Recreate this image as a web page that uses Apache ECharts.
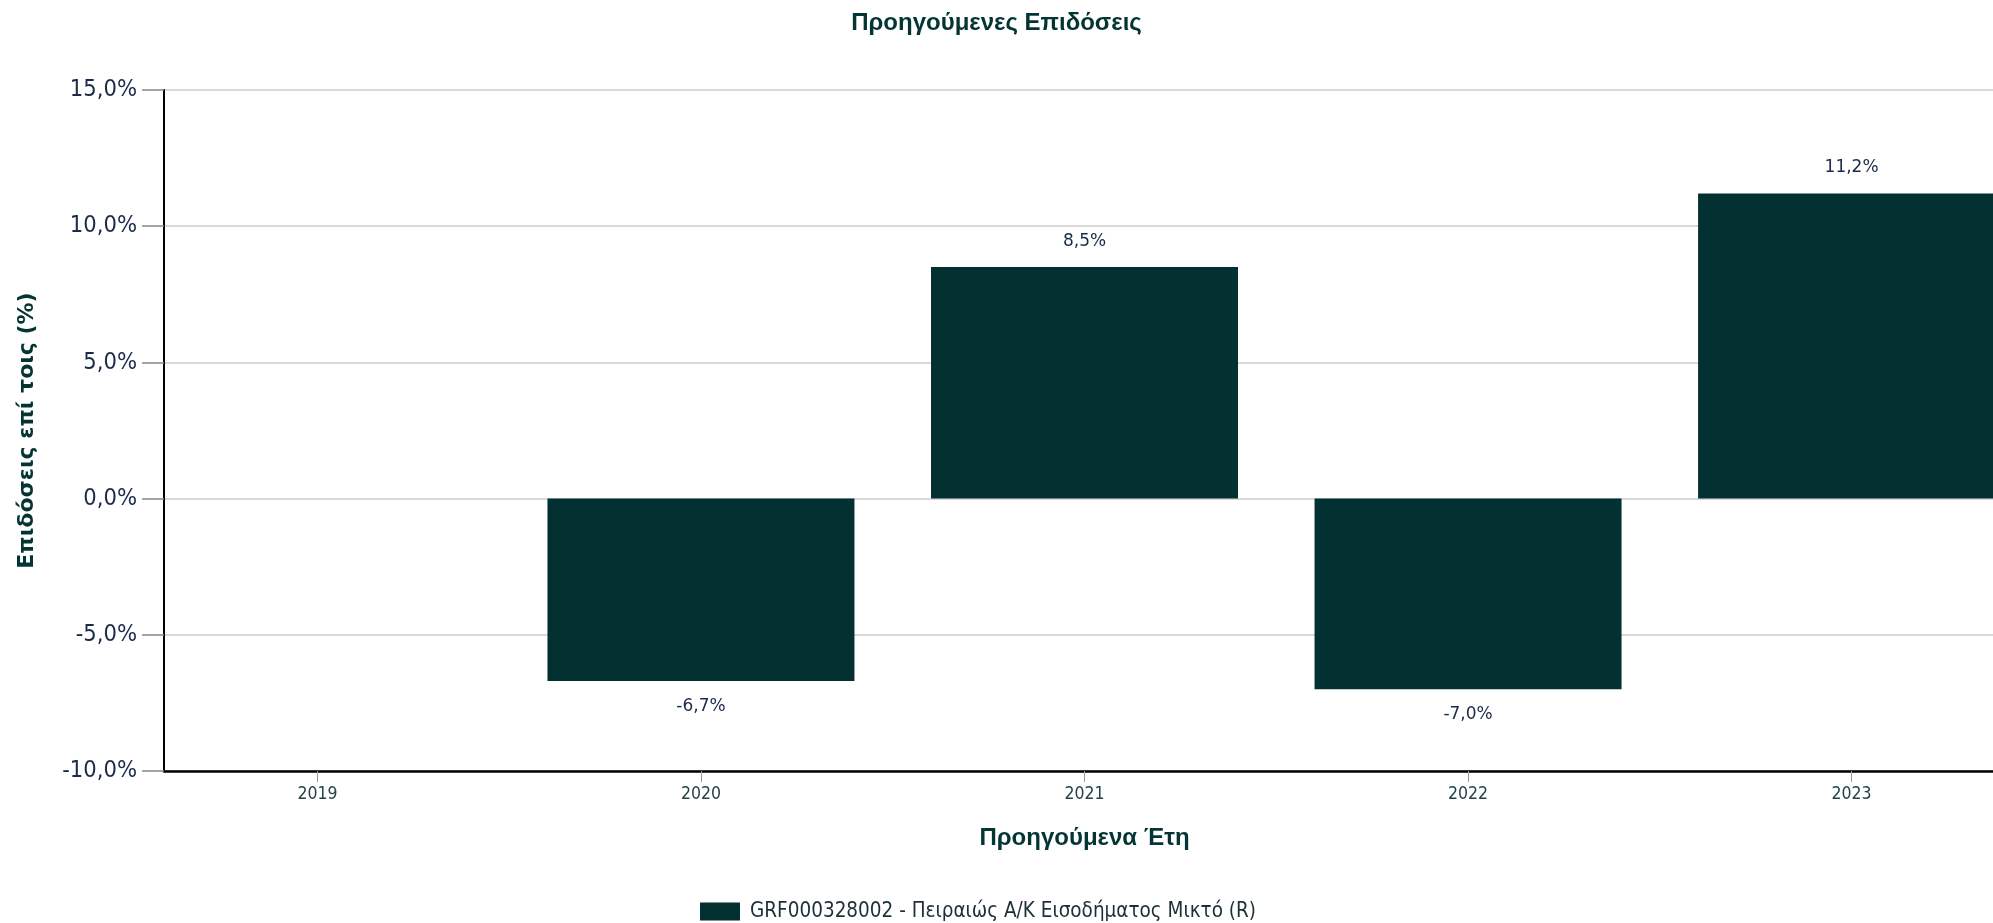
<!DOCTYPE html>
<html>
<head>
<meta charset="utf-8">
<script src="https://cdn.jsdelivr.net/npm/echarts@6/dist/echarts.min.js"></script>
<style>
html,body{margin:0;padding:0;background:#fff;}
#chart{width:1993px;height:923px;}
</style>
</head>
<body>
<div id="chart"></div>
<script>
const chartTitle = 'Προηγούμενες Επιδόσεις';
const xAxisTitle = 'Προηγούμενα Έτη';
const yAxisTitle = 'Επιδόσεις επί τοις (%)';
const seriesName = 'GRF000328002 - Πειραιώς Α/Κ Εισοδήματος Μικτό (R)';
const years = [2019, 2020, 2021, 2022, 2023];
const returns = [null, -6.7, 8.5, -7.0, 11.2];
const yTicks = [-10, -5, 0, 5, 10, 15];

const fmt = v => v.toFixed(1).replace('.', ',') + '%';
const condensed = '"DejaVu Sans Condensed", "Liberation Sans Narrow", "DejaVu Sans", sans-serif';

const seriesData = years.map((y, i) => {
  const v = returns[i];
  return {
    value: [y, v],
    label: { position: (v !== null && v < 0) ? 'bottom' : 'top' }
  };
});

const chart = echarts.init(document.getElementById('chart'));
chart.setOption({
  animation: false,
  backgroundColor: '#ffffff',
  title: {
    text: chartTitle,
    left: 'center',
    top: 6,
    textStyle: { fontFamily: '"Liberation Sans", Arial, sans-serif', fontWeight: 'bold', fontSize: 24, color: '#043434' }
  },
  legend: {
    left: 695,
    top: 896,
    itemWidth: 40,
    itemHeight: 18,
    itemGap: 10,
    icon: 'rect',
    textStyle: { fontFamily: condensed, fontSize: 20.5, color: '#1c3038', padding: [0, 0, 0, 5] },
    data: [seriesName]
  },
  grid: { left: 164, width: 1841, top: 90, bottom: 152, containLabel: false, outerBoundsMode: 'none' },
  xAxis: {
    type: 'value',
    min: 2018.6,
    max: 2023.4,
    minInterval: 1,
    maxInterval: 1,
    splitNumber: 5,
    name: xAxisTitle,
    nameLocation: 'middle',
    nameGap: 55,
    nameTextStyle: { fontFamily: '"Liberation Sans", Arial, sans-serif', fontWeight: 'bold', fontSize: 24, color: '#043434' },
    axisLine: { onZero: false, lineStyle: { color: '#000', width: 2.5 } },
    axisTick: { length: 11, lineStyle: { color: '#999', width: 1 } },
    axisLabel: {
      showMinLabel: false, showMaxLabel: false,
      margin: 14,
      fontFamily: condensed, fontSize: 17.5, color: '#244444',
      formatter: v => (years.indexOf(v) >= 0 ? String(v) : '')
    },
    splitLine: { show: false }
  },
  yAxis: {
    type: 'value',
    min: yTicks[0],
    max: yTicks[yTicks.length - 1],
    interval: 5,
    name: yAxisTitle,
    nameLocation: 'middle',
    nameRotate: 90,
    nameGap: 126,
    nameTextStyle: { fontFamily: '"DejaVu Sans", Verdana, sans-serif', fontWeight: 'bold', fontSize: 22, color: '#043434' },
    axisLine: { show: true, onZero: false, lineStyle: { color: '#000', width: 2 } },
    axisTick: { show: true, length: 22, lineStyle: { color: '#888', width: 1.5 } },
    axisLabel: {
      margin: 27,
      fontFamily: condensed, fontSize: 23.5, color: '#1b2a4a',
      formatter: v => fmt(v)
    },
    splitLine: { lineStyle: { color: '#d9d9d9', width: 2 } }
  },
  series: [{
    name: seriesName,
    type: 'bar',
    barWidth: 307,
    itemStyle: { color: '#033030' },
    label: {
      show: true,
      distance: 17,
      fontFamily: '"DejaVu Sans", Verdana, sans-serif',
      fontSize: 17,
      color: '#1b2a4a',
      formatter: p => (p.value[1] === null ? '' : fmt(p.value[1]))
    },
    data: seriesData
  }]
});
</script>
</body>
</html>
